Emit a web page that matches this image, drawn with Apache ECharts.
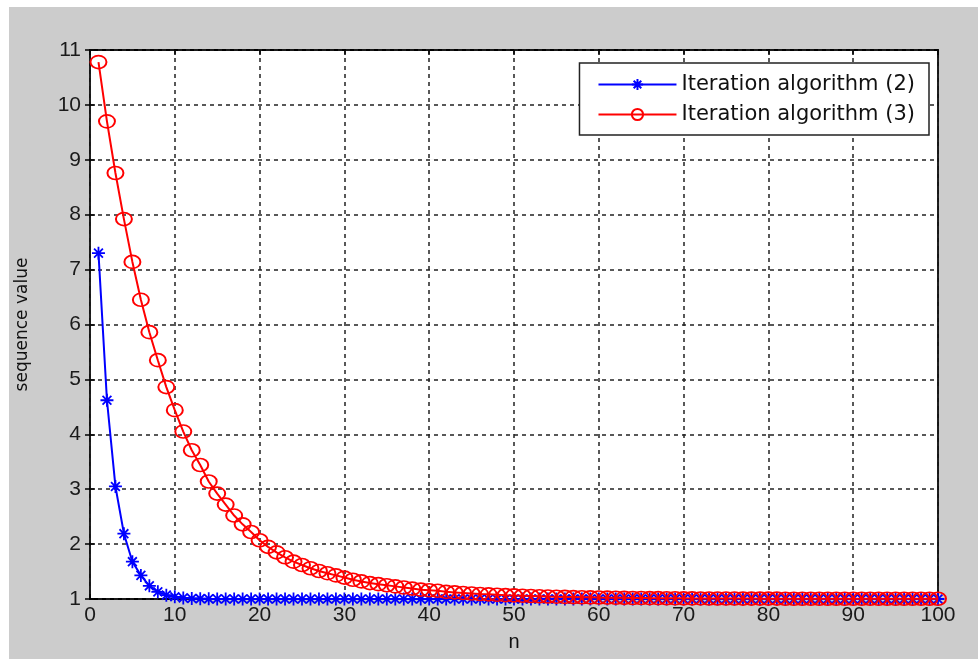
<!DOCTYPE html>
<html lang="en">
<head>
<meta charset="UTF-8" />
<title>Iteration algorithms</title>
<script src="https://cdn.jsdelivr.net/npm/echarts@6/dist/echarts.min.js"></script>
<style>
	html, body { margin: 0; padding: 0; background: #fff; }
	#main { position: absolute; left: 9px; top: 7px; width: 969px; height: 652px; background: #cccccc; }
</style>
</head>
<body>
<div id="main"></div>
<script>
	// values, n = 1..100
	var algo2 = [
		7.30, 4.62, 3.05, 2.19, 1.68, 1.43, 1.24, 1.13, 1.07, 1.04,
		1.02, 1.01, 1.006, 1.003, 1.002, 1.001, 1.001, 1, 1, 1,
		1, 1, 1, 1, 1, 1, 1, 1, 1, 1,
		1, 1, 1, 1, 1, 1, 1, 1, 1, 1,
		1, 1, 1, 1, 1, 1, 1, 1, 1, 1,
		1, 1, 1, 1, 1, 1, 1, 1, 1, 1,
		1, 1, 1, 1, 1, 1, 1, 1, 1, 1,
		1, 1, 1, 1, 1, 1, 1, 1, 1, 1,
		1, 1, 1, 1, 1, 1, 1, 1, 1, 1,
		1, 1, 1, 1, 1, 1, 1, 1, 1, 1
	];
	var algo3 = [
		10.78, 9.70, 8.76, 7.92, 7.14, 6.45, 5.86, 5.35, 4.86, 4.44,
		4.05, 3.71, 3.44, 3.14, 2.92, 2.72, 2.52, 2.36, 2.22, 2.07,
		1.95, 1.85, 1.76, 1.68, 1.62, 1.56, 1.51, 1.47, 1.43, 1.39,
		1.35, 1.32, 1.29, 1.27, 1.25, 1.23, 1.21, 1.19, 1.17, 1.16,
		1.15, 1.13, 1.12, 1.11, 1.10, 1.09, 1.085, 1.078, 1.07, 1.065,
		1.06, 1.055, 1.05, 1.045, 1.042, 1.038, 1.035, 1.032, 1.03, 1.027,
		1.025, 1.023, 1.021, 1.019, 1.018, 1.016, 1.015, 1.014, 1.013, 1.012,
		1.011, 1.010, 1.009, 1.009, 1.008, 1.008, 1.007, 1.007, 1.006, 1.006,
		1.006, 1.005, 1.005, 1.005, 1.005, 1.005, 1.005, 1.005, 1.005, 1.005,
		1.005, 1.005, 1.005, 1.005, 1.005, 1.005, 1.005, 1.005, 1.005, 1.005
	];
	var legendNames = ['Iteration algorithm (2)', 'Iteration algorithm (3)'];

	function pairs(vals) {
		var out = [];
		for (var i = 0; i < vals.length; i++) out.push([i + 1, vals[i]]);
		return out;
	}

	var star = 'path://M5,0L5,10M0,5L10,5M1.6,1.6L8.4,8.4M1.6,8.4L8.4,1.6';
	var font = 'Liberation Sans, Arial, sans-serif';
	var wide = 'DejaVu Sans, sans-serif';
	var gridLine = { show: true, lineStyle: { color: '#222', type: [4, 4], width: 1.5 } };
	var tick = { show: true, inside: true, length: 5, lineStyle: { color: '#000', width: 1.5 } };

	var chart = echarts.init(document.getElementById('main'));
	chart.setOption({
		animation: false,
		grid: {
			left: 81, top: 43, right: 40, bottom: 60,
			outerBoundsMode: 'none', containLabel: false,
			show: true, backgroundColor: '#fff', borderColor: '#000', borderWidth: 1.8
		},
		legend: {
			data: legendNames,
			orient: 'vertical',
			right: 49, top: 56,
			backgroundColor: '#fff',
			borderColor: '#222', borderWidth: 1.5,
			padding: [11, 14, 10, 18],
			itemWidth: 78, itemHeight: 14, itemGap: 9,
			textStyle: { fontFamily: wide, fontSize: 21, color: '#111', lineHeight: 20 }
		},
		xAxis: [{
			type: 'value', min: 0, max: 100, interval: 10,
			name: 'n', nameLocation: 'middle', nameGap: 33,
			nameTextStyle: { fontFamily: font, fontSize: 20, color: '#111' },
			axisLine: { show: false }, axisTick: tick, splitLine: gridLine,
			axisLabel: { fontFamily: font, fontSize: 21, color: '#1a1a1a', margin: 6 }
		}, {
			type: 'value', min: 0, max: 100, interval: 10, position: 'top',
			axisLine: { show: false }, axisTick: tick, splitLine: { show: false },
			axisLabel: { show: false }
		}],
		yAxis: [{
			type: 'value', min: 1, max: 11, interval: 1,
			name: 'sequence value', nameLocation: 'middle', nameGap: 59,
			nameTextStyle: { fontFamily: wide, fontSize: 17, color: '#111' },
			axisLine: { show: false }, axisTick: tick, splitLine: gridLine,
			axisLabel: { fontFamily: font, fontSize: 21, color: '#1a1a1a', margin: 9 }
		}, {
			type: 'value', min: 1, max: 11, interval: 1, position: 'right',
			axisLine: { show: false }, axisTick: tick, splitLine: { show: false },
			axisLabel: { show: false }
		}],
		series: [{
			name: legendNames[0],
			type: 'line',
			data: pairs(algo2),
			symbol: star, symbolSize: 13, showAllSymbol: true,
			lineStyle: { color: '#0000ff', width: 2 },
			itemStyle: { color: 'rgba(0,0,0,0)', borderColor: '#0000ff', borderWidth: 1.8 },
			z: 3
		}, {
			name: legendNames[1],
			type: 'line',
			data: pairs(algo3),
			symbol: 'circle', symbolSize: [16, 13], showAllSymbol: true,
			lineStyle: { color: '#ff0000', width: 2 },
			itemStyle: { color: 'rgba(0,0,0,0)', borderColor: '#ff0000', borderWidth: 1.8 },
			z: 4
		}]
	});
</script>
</body>
</html>
